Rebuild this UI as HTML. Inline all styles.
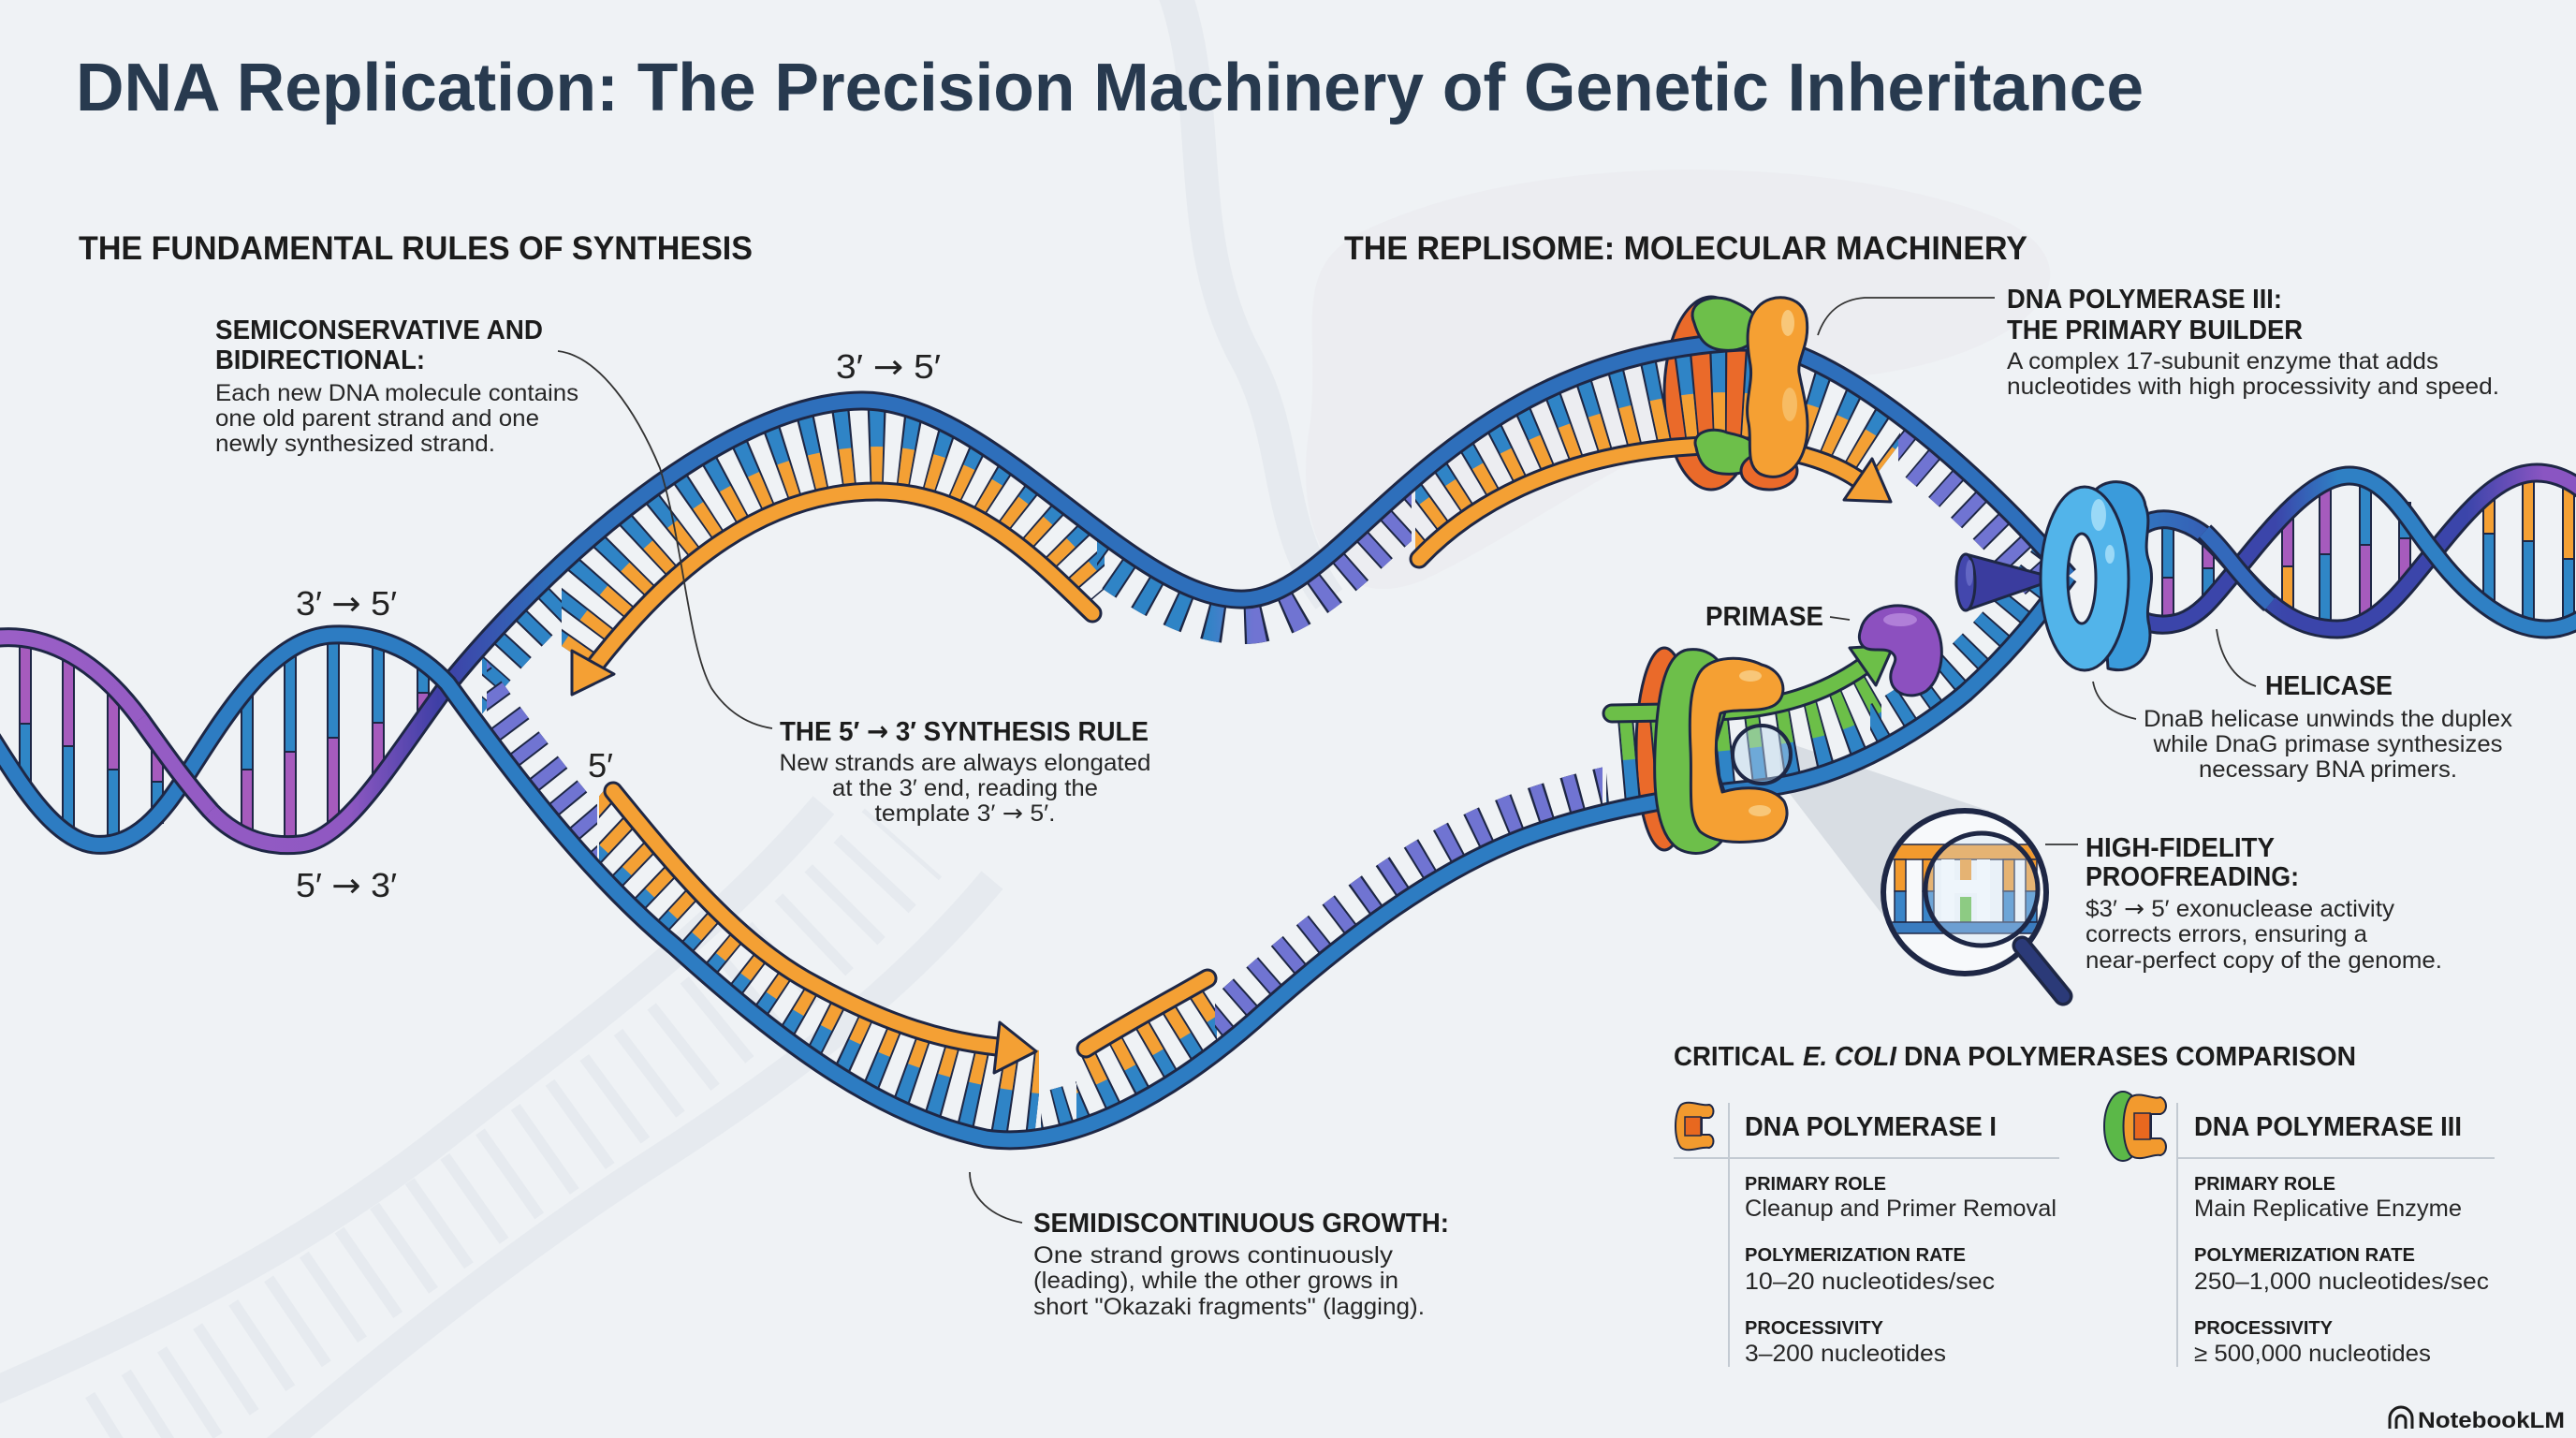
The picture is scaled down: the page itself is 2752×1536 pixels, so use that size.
<!DOCTYPE html>
<html><head><meta charset="utf-8">
<style>
html,body{margin:0;padding:0;background:#eff2f5;}
svg{display:block}
.so{fill:none;stroke:#1e2745;stroke-width:21}
.rk{fill:none;stroke:#1e2745;stroke-width:170;stroke-dasharray:17 17;stroke-dashoffset:2}
.rb{fill:none;stroke:#2f84c6;stroke-width:170;stroke-dasharray:13 21}
.ro{fill:none;stroke:#f4a034;stroke-width:170;stroke-dasharray:13 21}
.rg{fill:none;stroke:#6cbf48;stroke-width:170;stroke-dasharray:13 21}
.sk{fill:none;stroke:#1e2745;stroke-width:96;stroke-dasharray:17 17;stroke-dashoffset:2}
.sb{fill:none;stroke:#2f84c6;stroke-width:96;stroke-dasharray:13 21}
.sl{fill:none;stroke:#7074d2;stroke-width:96;stroke-dasharray:13 21}
.ld{fill:none;stroke:#333;stroke-width:1.8}
.h{font-weight:bold;fill:#1c1c1c}
.b{fill:#262626}
.ol{stroke:#1e2745;stroke-width:3;stroke-linejoin:round}
.ar{font-family:"DejaVu Sans",sans-serif}
</style></head>
<body>
<svg width="2752" height="1536" viewBox="0 0 2752 1536" xmlns="http://www.w3.org/2000/svg" font-family="'Liberation Sans', Arial, sans-serif">
<defs>
 <linearGradient id="gPT" gradientUnits="userSpaceOnUse" x1="0" y1="0" x2="2752" y2="0">
  <stop offset="0" stop-color="#9a5fc6"/><stop offset="0.135" stop-color="#8f58c2"/><stop offset="0.17" stop-color="#3f3fa6"/><stop offset="0.215" stop-color="#2e6fbb"/><stop offset="1" stop-color="#2e6fbb"/>
 </linearGradient>
 <linearGradient id="gRA" gradientUnits="userSpaceOnUse" x1="2250" y1="0" x2="2800" y2="0">
  <stop offset="0" stop-color="#2f80c4"/><stop offset="0.35" stop-color="#3b45aa"/><stop offset="0.7" stop-color="#3b45aa"/><stop offset="0.85" stop-color="#8a55c2"/><stop offset="1" stop-color="#8a55c2"/>
 </linearGradient>
 <linearGradient id="gRB" gradientUnits="userSpaceOnUse" x1="2250" y1="0" x2="2800" y2="0">
  <stop offset="0" stop-color="#3b45aa"/><stop offset="0.33" stop-color="#3b45aa"/><stop offset="0.45" stop-color="#2f80c4"/><stop offset="1" stop-color="#2f80c4"/>
 </linearGradient>
 <linearGradient id="gS1" gradientUnits="userSpaceOnUse" x1="1170" y1="0" x2="1510" y2="0">
  <stop offset="0" stop-color="#2f84c6"/><stop offset="0.35" stop-color="#2f84c6"/><stop offset="0.5" stop-color="#7074d2"/><stop offset="1" stop-color="#7074d2"/>
 </linearGradient>

 <path id="pT" d="M 478,732 C 560,630 760,430 920,428 C 1060,426 1210,645 1330,640 C 1440,636 1540,380 1860,365 C 1960,365 2120,510 2210,615"/>
 <path id="pB2" d="M 478,730 C 550,830 630,935 720,1010 C 820,1100 930,1190 1053,1216 C 1150,1230 1260,1160 1340,1090 C 1440,1000 1540,925 1640,890 C 1720,862 1800,850 1880,842 C 1960,834 2040,790 2100,740 C 2150,695 2180,655 2210,615"/>
 <path id="pPT" d="M -20,684 C 40,670 100,700 150,768 C 180,810 200,838 225,866 C 255,898 290,905 320,902 C 370,898 420,810 478,732 C 560,630 760,430 920,428 C 1060,426 1210,645 1330,640 C 1440,636 1540,380 1860,365 C 1960,365 2120,510 2210,615"/>
 <path id="pB" d="M -20,772 C 10,815 50,895 100,902 C 145,907 175,865 195,835 C 240,765 290,680 356,678 C 410,676 450,700 478,730 C 550,830 630,935 720,1010 C 820,1100 930,1190 1053,1216 C 1150,1230 1260,1160 1340,1090 C 1440,1000 1540,925 1640,890 C 1720,862 1800,850 1880,842 C 1960,834 2040,790 2100,740 C 2150,695 2180,655 2210,615"/>
 <path id="M1" d="M 600,690 C 680,570 800,478 937,477 C 1050,477 1130,560 1185,625"/>
 <path id="M2" d="M 1490,560 C 1560,500 1660,445 1790,423 C 1880,410 1960,430 2025,480"/>
 <path id="M3" d="M 615,880 C 680,935 770,1040 875,1094 C 960,1138 1030,1160 1110,1168"/>
 <path id="M4" d="M 1140,1172 C 1200,1148 1260,1112 1320,1072"/>
 <path id="M5" d="M 1700,815 C 1800,806 1880,800 1930,790 C 1970,782 2000,768 2035,745"/>
 <path id="O1" d="M 630,718 C 720,600 820,525 937,525 C 1040,525 1110,600 1167,655"/>
 <path id="O2" d="M 1516,597 C 1570,540 1660,490 1790,478 C 1880,470 1945,485 1985,512"/>
 <path id="O3" d="M 655,845 C 720,925 790,1010 871,1052 C 950,1095 1010,1112 1065,1118"/>
 <path id="O4" d="M 1160,1120 C 1200,1095 1250,1068 1290,1045"/>
 <path id="O5" d="M 1722,762 L 1830,760 C 1900,758 1950,740 1990,712"/>
 <path id="RA" d="M 2255,600 C 2280,560 2300,548 2330,558 C 2355,566 2370,585 2390,608 C 2430,655 2460,672 2497,672 C 2540,672 2570,625 2600,590 C 2640,540 2672,505 2710,505 C 2745,505 2770,530 2800,565"/>
 <path id="RB" d="M 2255,640 C 2280,665 2305,672 2330,664 C 2355,655 2370,630 2390,608 C 2425,565 2470,508 2510,508 C 2550,508 2575,560 2600,590 C 2630,630 2675,672 2720,672 C 2750,672 2780,650 2800,620"/>

 <clipPath id="cBelowT"><path d="M 478,732 C 560,630 760,430 920,428 C 1060,426 1210,645 1330,640 C 1440,636 1540,380 1860,365 C 1960,365 2120,510 2210,615 L 2210,1600 L 478,1600 Z"/></clipPath>
 <clipPath id="cAboveB2"><path d="M 478,730 C 550,830 630,935 720,1010 C 820,1100 930,1190 1053,1216 C 1150,1230 1260,1160 1340,1090 C 1440,1000 1540,925 1640,890 C 1720,862 1800,850 1880,842 C 1960,834 2040,790 2100,740 C 2150,695 2180,655 2210,615 L 2210,-50 L 478,-50 Z"/></clipPath>
 <clipPath id="cAboveO1"><path d="M 600,760 L 612,740 L 630,718 C 720,600 820,525 937,525 C 1040,525 1110,600 1167,655 L 1180,668 L 1180,0 L 600,0 Z"/></clipPath>
 <clipPath id="cBelowM1"><path d="M 600,690 C 680,570 800,478 937,477 C 1050,477 1130,560 1185,625 L 1185,1600 L 560,1600 L 560,690 Z"/></clipPath>
 <clipPath id="cAboveO2"><path d="M 1512,0 L 1512,600 L 1516,597 C 1570,540 1660,490 1790,478 C 1880,470 1945,485 1985,512 L 2030,545 L 2030,0 Z"/></clipPath>
 <clipPath id="cBelowM2"><path d="M 1490,560 C 1560,500 1660,445 1790,423 C 1880,410 1960,430 2025,480 L 2060,520 L 2060,1600 L 1450,1600 L 1450,560 Z"/></clipPath>
 <clipPath id="cBelowO3"><path d="M 640,830 L 655,845 C 720,925 790,1010 871,1052 C 950,1095 1010,1112 1065,1118 L 1110,1122 L 1110,1600 L 640,1600 Z"/></clipPath>
 <clipPath id="cAboveM3"><path d="M 615,880 C 680,935 770,1040 875,1094 C 960,1138 1030,1160 1110,1168 L 1150,1170 L 1150,0 L 615,0 Z"/></clipPath>
 <clipPath id="cBelowO4"><path d="M 1150,1128 L 1160,1120 C 1200,1095 1250,1068 1290,1045 L 1300,1040 L 1300,1600 L 1150,1600 Z"/></clipPath>
 <clipPath id="cAboveM4"><path d="M 1140,1172 C 1200,1148 1260,1112 1320,1072 L 1320,0 L 1140,0 Z"/></clipPath>
 <clipPath id="cBelowO5"><path d="M 1716,763 L 1830,760 C 1900,758 1950,740 1990,712 L 2010,698 L 2010,1600 L 1716,1600 Z"/></clipPath>
 <clipPath id="cAboveM5"><path d="M 1700,815 C 1800,806 1880,800 1930,790 C 1970,782 2000,768 2035,745 L 2035,0 L 1700,0 Z"/></clipPath>
 <clipPath id="xS1"><rect x="1172" y="0" width="336" height="1536"/></clipPath>
 <clipPath id="xS2"><rect x="2028" y="0" width="160" height="1536"/></clipPath>
 <clipPath id="xS3"><rect x="515" y="0" width="85" height="1536"/></clipPath>
 <clipPath id="xS4a"><rect x="1112" y="0" width="38" height="1536"/></clipPath>
 <clipPath id="xS4b"><rect x="1298" y="0" width="414" height="1536"/></clipPath>
 <clipPath id="xS5"><rect x="1998" y="0" width="190" height="1536"/></clipPath>
 <clipPath id="xS6"><rect x="520" y="0" width="118" height="1536"/></clipPath>
 <clipPath id="cMag"><circle cx="2099" cy="953" r="84"/></clipPath>
</defs>

<!-- background -->
<rect x="0" y="0" width="2752" height="1536" fill="#eff2f5"/>
<path d="M 1450,250 C 1650,150 2000,170 2150,240 C 2250,300 2150,380 2000,400 C 1800,430 1650,560 1520,620 C 1420,660 1380,560 1400,450 C 1410,350 1380,290 1450,250 Z" fill="#e9e5ea" opacity="0.35"/>
<g opacity="0.28" fill="none" stroke="#d0d8e0">
 <path d="M -40,1500 C 150,1420 330,1330 480,1210 C 620,1100 760,1000 880,860" stroke-width="30"/>
 <path d="M 280,1560 C 420,1440 560,1330 700,1240 C 840,1150 960,1060 1060,940" stroke-width="30"/>
 <path d="M 120,1540 C 290,1435 450,1320 590,1222 C 720,1130 850,1030 965,900" stroke-width="110" stroke-dasharray="12 34"/>
 <path d="M 1250,-20 C 1300,100 1260,250 1330,380 C 1380,470 1360,560 1420,640" stroke-width="36"/>
</g>

<!-- magnifier cone -->
<polygon points="1900,790 2125,866 2050,1028 1903,836" fill="#c5ccd4" opacity="0.55"/>

<!-- enzyme back bodies -->
<ellipse cx="1828" cy="420" rx="50" ry="103" fill="#ea6a2a" class="ol"/>
<ellipse cx="1778" cy="800" rx="30" ry="108" fill="#ea6a2a" class="ol"/>

<!-- left helix rungs -->
<g stroke="#1e2745" stroke-width="2">
 <rect x="21" y="682" width="12" height="91" fill="#a65bbd"/><rect x="21" y="773" width="12" height="68" fill="#2f86c6"/>
 <rect x="67" y="697" width="12" height="100" fill="#a65bbd"/><rect x="67" y="797" width="12" height="93" fill="#2f86c6"/>
 <rect x="115" y="730" width="12" height="92" fill="#a65bbd"/><rect x="115" y="822" width="12" height="81" fill="#2f86c6"/>
 <rect x="162" y="792" width="12" height="43" fill="#a65bbd"/><rect x="162" y="835" width="12" height="44" fill="#2f86c6"/>
 <rect x="258" y="742" width="12" height="80" fill="#2f86c6"/><rect x="258" y="822" width="12" height="74" fill="#a65bbd"/>
 <rect x="304" y="692" width="12" height="111" fill="#2f86c6"/><rect x="304" y="803" width="12" height="99" fill="#a65bbd"/>
 <rect x="350" y="678" width="12" height="110" fill="#2f86c6"/><rect x="350" y="788" width="12" height="97" fill="#a65bbd"/>
 <rect x="398" y="685" width="12" height="87" fill="#2f86c6"/><rect x="398" y="772" width="12" height="64" fill="#a65bbd"/>
 <rect x="446" y="705" width="12" height="35" fill="#2f86c6"/><rect x="446" y="740" width="12" height="30" fill="#a65bbd"/>
</g>
<!-- right helix rungs -->
<g stroke="#1e2745" stroke-width="2">
 <rect x="2310" y="553" width="12" height="64" fill="#2f86c6"/><rect x="2310" y="617" width="12" height="53" fill="#a65bbd"/>
 <rect x="2353" y="580" width="12" height="27" fill="#a65bbd"/><rect x="2353" y="607" width="12" height="33" fill="#2f86c6"/>
 <rect x="2438" y="548" width="12" height="57" fill="#a65bbd"/><rect x="2438" y="605" width="12" height="55" fill="#f4a034"/>
 <rect x="2478" y="515" width="12" height="77" fill="#a65bbd"/><rect x="2478" y="592" width="12" height="79" fill="#2f86c6"/>
 <rect x="2521" y="510" width="12" height="72" fill="#2f86c6"/><rect x="2521" y="582" width="12" height="78" fill="#a65bbd"/>
 <rect x="2563" y="537" width="12" height="38" fill="#2f86c6"/><rect x="2563" y="575" width="12" height="50" fill="#a65bbd"/>
 <rect x="2653" y="525" width="12" height="45" fill="#f4a034"/><rect x="2653" y="570" width="12" height="80" fill="#2f86c6"/>
 <rect x="2695" y="506" width="12" height="72" fill="#f4a034"/><rect x="2695" y="578" width="12" height="93" fill="#2f86c6"/>
 <rect x="2738" y="512" width="12" height="85" fill="#f4a034"/><rect x="2738" y="597" width="12" height="68" fill="#2f86c6"/>
</g>

<!-- paired rungs -->
<g clip-path="url(#cBelowT)"><g clip-path="url(#cAboveO1)">
 <use href="#M1" class="rk"/><use href="#M1" class="rb"/>
 <g clip-path="url(#cBelowM1)"><use href="#M1" class="ro"/></g>
</g></g>
<g clip-path="url(#cBelowT)"><g clip-path="url(#cAboveO2)">
 <use href="#M2" class="rk"/><use href="#M2" class="rb"/>
 <g clip-path="url(#cBelowM2)"><use href="#M2" class="ro"/></g>
</g></g>
<g clip-path="url(#cAboveB2)"><g clip-path="url(#cBelowO3)">
 <use href="#M3" class="rk"/><use href="#M3" class="rb"/>
 <g clip-path="url(#cAboveM3)"><use href="#M3" class="ro"/></g>
</g></g>
<g clip-path="url(#cAboveB2)"><g clip-path="url(#cBelowO4)">
 <use href="#M4" class="rk"/><use href="#M4" class="rb"/>
 <g clip-path="url(#cAboveM4)"><use href="#M4" class="ro"/></g>
</g></g>
<g clip-path="url(#cAboveB2)"><g clip-path="url(#cBelowO5)">
 <use href="#M5" class="rk"/><use href="#M5" class="rb"/>
 <g clip-path="url(#cAboveM5)"><use href="#M5" class="rg"/></g>
</g></g>

<!-- unpaired stubs -->
<g clip-path="url(#cBelowT)"><g clip-path="url(#xS1)"><use href="#pT" class="sk"/><use href="#pT" fill="none" stroke="url(#gS1)" stroke-width="96" stroke-dasharray="13 21"/></g></g>
<g clip-path="url(#cBelowT)"><g clip-path="url(#xS2)"><use href="#pT" class="sk"/><use href="#pT" class="sl"/></g></g>
<g clip-path="url(#cBelowT)"><g clip-path="url(#xS3)"><use href="#pT" class="sk"/><use href="#pT" class="sb"/></g></g>
<g clip-path="url(#cAboveB2)"><g clip-path="url(#xS4a)"><use href="#pB2" class="sk"/><use href="#pB2" class="sb"/></g></g>
<g clip-path="url(#cAboveB2)"><g clip-path="url(#xS4b)"><use href="#pB2" class="sk"/><use href="#pB2" class="sl"/></g></g>
<g clip-path="url(#cAboveB2)"><g clip-path="url(#xS5)"><use href="#pB2" class="sk"/><use href="#pB2" class="sb"/></g></g>
<g clip-path="url(#cAboveB2)"><g clip-path="url(#xS6)"><use href="#pB2" class="sk"/><use href="#pB2" class="sl"/></g></g>

<!-- helicase wedge -->
<path d="M 2100,592 L 2198,618 L 2100,652 Z" fill="#3a3c9e" class="ol"/>
<ellipse cx="2100" cy="622" rx="10" ry="30" fill="#4347ad" class="ol"/>
<ellipse cx="2104" cy="612" rx="4" ry="14" fill="#6367c4"/>

<!-- right helix strands -->
<use href="#RA" class="so"/><use href="#RA" fill="none" stroke="url(#gRA)" stroke-width="15"/>
<use href="#RB" class="so"/><use href="#RB" fill="none" stroke="url(#gRB)" stroke-width="15"/>
<path d="M 2355,568 C 2370,582 2380,596 2390,608 C 2400,620 2412,634 2425,645" class="so"/>
<path d="M 2355,568 C 2370,582 2380,596 2390,608 C 2400,620 2412,634 2425,645" fill="none" stroke="#3369bb" stroke-width="15"/>

<!-- main strands -->
<use href="#pPT" class="so"/><use href="#pPT" fill="none" stroke="url(#gPT)" stroke-width="15"/>
<use href="#pB" class="so"/><use href="#pB" fill="none" stroke="#2d7cc2" stroke-width="15"/>
<path d="M 150,768 C 180,810 200,838 225,866" class="so"/>
<path d="M 150,768 C 180,810 200,838 225,866" fill="none" stroke="url(#gPT)" stroke-width="15"/>

<!-- new strands -->
<g fill="none" stroke-linecap="round">
 <use href="#O1" class="so" stroke-linecap="round"/><use href="#O1" stroke="#f4a034" stroke-width="15"/>
 <use href="#O2" class="so" stroke-linecap="round"/><use href="#O2" stroke="#f4a034" stroke-width="15"/>
 <use href="#O3" class="so" stroke-linecap="round"/><use href="#O3" stroke="#f4a034" stroke-width="15"/>
 <use href="#O4" class="so" stroke-linecap="round"/><use href="#O4" stroke="#f4a034" stroke-width="15"/>
 <use href="#O5" class="so" stroke-linecap="round"/><use href="#O5" stroke="#6cbf48" stroke-width="15"/>
</g>
<polygon points="611,742 611,695 656,720" fill="#f4a034" class="ol"/>
<polygon points="2020,536 1970,534 2000,490" fill="#f4a034" class="ol"/>
<polygon points="1107,1123 1062,1146 1068,1092" fill="#f4a034" class="ol"/>
<polygon points="2023,689 2004,732 1976,692" fill="#6cbf48" class="ol"/>

<!-- Pol III top front -->
<path d="M 1810,345 C 1800,322 1830,312 1852,322 C 1870,330 1880,338 1878,352 C 1876,368 1860,376 1840,374 C 1822,372 1815,362 1810,345 Z" fill="#6dbf4a" class="ol"/>
<path d="M 1812,478 C 1806,462 1828,455 1845,462 C 1862,466 1880,470 1878,488 C 1876,502 1860,508 1840,506 C 1822,504 1815,494 1812,478 Z" fill="#6dbf4a" class="ol"/>
<ellipse cx="1890" cy="503" rx="30" ry="20" fill="#ea6a2a" class="ol"/>
<path d="M 1878,328 C 1892,312 1926,314 1930,340 C 1934,368 1920,382 1922,398 C 1926,420 1936,450 1928,478 C 1920,506 1898,515 1880,506 C 1864,496 1872,472 1868,452 C 1863,430 1873,410 1870,390 C 1866,368 1864,342 1878,328 Z" fill="#f5a033" class="ol"/>
<ellipse cx="1910" cy="345" rx="7" ry="14" fill="#f8c779"/>
<ellipse cx="1912" cy="432" rx="8" ry="18" fill="#f8c779" opacity="0.7"/>

<!-- lower polymerase front -->
<path d="M 1803,694 C 1832,690 1850,716 1846,746 C 1842,774 1830,790 1832,810 C 1834,832 1852,858 1846,884 C 1840,910 1812,918 1792,906 C 1772,892 1766,852 1768,802 C 1770,752 1776,698 1803,694 Z" fill="#6dbf4a" class="ol"/>
<path d="M 1816,718 C 1828,700 1862,700 1882,710 C 1906,716 1912,742 1896,753 C 1882,762 1852,756 1838,762 C 1831,790 1832,820 1840,846 C 1860,840 1892,838 1906,856 C 1916,876 1900,896 1880,898 C 1856,901 1830,900 1816,888 C 1802,870 1808,840 1806,800 C 1804,760 1806,734 1816,718 Z" fill="#f5a033" class="ol"/>
<ellipse cx="1870" cy="722" rx="12" ry="6" fill="#f8c779"/>
<ellipse cx="1880" cy="866" rx="12" ry="6" fill="#f8c779"/>
<circle cx="1882" cy="806" r="31" fill="#bcd6ee" fill-opacity="0.45" stroke="#1e2745" stroke-width="4"/>

<!-- primase -->
<path d="M 1988,672 C 1994,645 2040,638 2062,660 C 2080,680 2078,722 2058,738 C 2042,748 2022,742 2020,726 C 2018,712 2030,706 2022,698 C 2014,690 1998,698 1990,690 C 1985,684 1986,678 1988,672 Z" fill="#8c50bf" class="ol"/>
<ellipse cx="2030" cy="662" rx="18" ry="7" fill="#b07fd8"/>

<!-- helicase -->
<path d="M 2240,522 C 2256,508 2288,514 2292,540 C 2300,560 2288,580 2296,600 C 2304,625 2290,645 2296,668 C 2302,700 2280,722 2252,714 Z" fill="#3a9bdb" class="ol"/>
<path d="M 2180,618 A 47,98 0 1,0 2274,618 A 47,98 0 1,0 2180,618 Z M 2209,618 A 15,48 0 1,0 2239,618 A 15,48 0 1,0 2209,618 Z" fill="#52b4ea" fill-rule="evenodd" class="ol"/>
<ellipse cx="2242" cy="550" rx="8" ry="17" fill="#9ad9f7"/>
<ellipse cx="2254" cy="592" rx="5" ry="10" fill="#9ad9f7"/>

<!-- big magnifier -->
<circle cx="2099" cy="953" r="87" fill="#f7f9fb"/>
<g clip-path="url(#cMag)">
 <rect x="2010" y="902" width="180" height="16" fill="#f29a2e" stroke="#1e2745" stroke-width="1.5"/>
 <g stroke="#1e2745" stroke-width="1.5">
  <rect x="2024" y="918" width="12" height="34" fill="#f29a2e"/><rect x="2024" y="952" width="12" height="33" fill="#3a85c8"/>
  <rect x="2054" y="918" width="12" height="34" fill="#f29a2e"/><rect x="2054" y="952" width="12" height="33" fill="#3a85c8"/>
  <rect x="2140" y="918" width="12" height="34" fill="#f29a2e"/><rect x="2140" y="952" width="12" height="33" fill="#3a85c8"/>
  <rect x="2164" y="918" width="12" height="34" fill="#f29a2e"/><rect x="2164" y="952" width="12" height="33" fill="#3a85c8"/>
 </g>
 <rect x="2074" y="918" width="14" height="67" fill="#ffffff"/>
 <rect x="2112" y="918" width="14" height="67" fill="#ffffff"/>
 <rect x="2088" y="940" width="24" height="14" fill="#ffffff"/>
 <rect x="2094" y="918" width="12" height="22" fill="#f29a2e"/>
 <rect x="2094" y="958" width="12" height="27" fill="#6abf48"/>
 <rect x="2010" y="985" width="180" height="12" fill="#3a7cc0" stroke="#1e2745" stroke-width="1.5"/>
</g>
<circle cx="2099" cy="953" r="87" fill="none" stroke="#1e2745" stroke-width="6"/>
<circle cx="2117" cy="950" r="60" fill="#cfe3f4" fill-opacity="0.35" stroke="#1e2745" stroke-width="5"/>
<line x1="2160" y1="1010" x2="2204" y2="1064" stroke="#1e2745" stroke-width="21" stroke-linecap="round"/>
<line x1="2160" y1="1010" x2="2204" y2="1064" stroke="#2b3a78" stroke-width="14" stroke-linecap="round"/>

<!-- leader lines -->
<path class="ld" d="M 596,375 C 640,380 680,440 705,500 C 730,580 735,690 760,735 C 780,765 805,775 825,778"/>
<path class="ld" d="M 1036,1252 C 1036,1280 1060,1300 1092,1306"/>
<path class="ld" d="M 2131,318 L 1992,318 C 1965,320 1950,335 1942,358"/>
<path class="ld" d="M 1955,659 L 1976,662"/>
<path class="ld" d="M 2368,672 C 2372,700 2385,725 2410,733"/>
<path class="ld" d="M 2236,728 C 2240,750 2255,762 2282,768"/>
<path class="ld" d="M 2185,902 L 2220,902"/>

<!-- titles -->
<text x="81" y="118" font-size="72" font-weight="bold" fill="#283a4f" textLength="2209" lengthAdjust="spacingAndGlyphs">DNA Replication: The Precision Machinery of Genetic Inheritance</text>
<text x="84" y="277" font-size="35" class="h" textLength="720" lengthAdjust="spacingAndGlyphs">THE FUNDAMENTAL RULES OF SYNTHESIS</text>
<text x="1436" y="277" font-size="35" class="h" textLength="730" lengthAdjust="spacingAndGlyphs">THE REPLISOME: MOLECULAR MACHINERY</text>

<!-- semiconservative -->
<text x="230" y="362" font-size="29" class="h" textLength="350" lengthAdjust="spacingAndGlyphs">SEMICONSERVATIVE AND</text>
<text x="230" y="394" font-size="29" class="h" textLength="224" lengthAdjust="spacingAndGlyphs">BIDIRECTIONAL:</text>
<text x="230" y="428" font-size="25" class="b" textLength="388" lengthAdjust="spacingAndGlyphs">Each new DNA molecule contains</text>
<text x="230" y="455" font-size="25" class="b" textLength="346" lengthAdjust="spacingAndGlyphs">one old parent strand and one</text>
<text x="230" y="482" font-size="25" class="b" textLength="299" lengthAdjust="spacingAndGlyphs">newly synthesized strand.</text>

<!-- strand labels -->
<text x="893" y="404" font-size="36" fill="#222" textLength="112" lengthAdjust="spacingAndGlyphs">3′ <tspan class="ar">→</tspan> 5′</text>
<text x="316" y="657" font-size="36" fill="#222" textLength="108" lengthAdjust="spacingAndGlyphs">3′ <tspan class="ar">→</tspan> 5′</text>
<text x="316" y="958" font-size="36" fill="#222" textLength="108" lengthAdjust="spacingAndGlyphs">5′ <tspan class="ar">→</tspan> 3′</text>
<text x="628" y="830" font-size="36" fill="#222" textLength="27" lengthAdjust="spacingAndGlyphs">5′</text>

<!-- synthesis rule -->
<text x="833" y="791" font-size="29" class="h" textLength="394" lengthAdjust="spacingAndGlyphs">THE 5′ <tspan class="ar">→</tspan> 3′ SYNTHESIS RULE</text>
<text x="1031" y="823" font-size="25" class="b" text-anchor="middle" textLength="397" lengthAdjust="spacingAndGlyphs">New strands are always elongated</text>
<text x="1031" y="850" font-size="25" class="b" text-anchor="middle" textLength="284" lengthAdjust="spacingAndGlyphs">at the 3′ end, reading the</text>
<text x="1031" y="877" font-size="25" class="b" text-anchor="middle" textLength="193" lengthAdjust="spacingAndGlyphs">template 3′ <tspan class="ar">→</tspan> 5′.</text>

<!-- semidiscontinuous -->
<text x="1104" y="1316" font-size="29" class="h" textLength="444" lengthAdjust="spacingAndGlyphs">SEMIDISCONTINUOUS GROWTH:</text>
<text x="1104" y="1349" font-size="25" class="b" textLength="384" lengthAdjust="spacingAndGlyphs">One strand grows continuously</text>
<text x="1104" y="1376" font-size="25" class="b" textLength="390" lengthAdjust="spacingAndGlyphs">(leading), while the other grows in</text>
<text x="1104" y="1404" font-size="25" class="b" textLength="418" lengthAdjust="spacingAndGlyphs">short "Okazaki fragments" (lagging).</text>

<!-- pol III -->
<text x="2144" y="329" font-size="29" class="h" textLength="294" lengthAdjust="spacingAndGlyphs">DNA POLYMERASE III:</text>
<text x="2144" y="362" font-size="29" class="h" textLength="316" lengthAdjust="spacingAndGlyphs">THE PRIMARY BUILDER</text>
<text x="2144" y="394" font-size="25" class="b" textLength="461" lengthAdjust="spacingAndGlyphs">A complex 17-subunit enzyme that adds</text>
<text x="2144" y="421" font-size="25" class="b" textLength="526" lengthAdjust="spacingAndGlyphs">nucleotides with high processivity and speed.</text>

<!-- primase / helicase -->
<text x="1822" y="668" font-size="29" class="h" textLength="126" lengthAdjust="spacingAndGlyphs">PRIMASE</text>
<text x="2420" y="742" font-size="29" class="h" textLength="136" lengthAdjust="spacingAndGlyphs">HELICASE</text>
<text x="2487" y="776" font-size="25" class="b" text-anchor="middle" textLength="394" lengthAdjust="spacingAndGlyphs">DnaB helicase unwinds the duplex</text>
<text x="2487" y="803" font-size="25" class="b" text-anchor="middle" textLength="373" lengthAdjust="spacingAndGlyphs">while DnaG primase synthesizes</text>
<text x="2487" y="830" font-size="25" class="b" text-anchor="middle" textLength="276" lengthAdjust="spacingAndGlyphs">necessary BNA primers.</text>

<!-- proofreading -->
<text x="2228" y="915" font-size="29" class="h" textLength="202" lengthAdjust="spacingAndGlyphs">HIGH-FIDELITY</text>
<text x="2228" y="946" font-size="29" class="h" textLength="228" lengthAdjust="spacingAndGlyphs">PROOFREADING:</text>
<text x="2228" y="979" font-size="25" class="b" textLength="330" lengthAdjust="spacingAndGlyphs">$3′ <tspan class="ar">→</tspan> 5′ exonuclease activity</text>
<text x="2228" y="1006" font-size="25" class="b" textLength="301" lengthAdjust="spacingAndGlyphs">corrects errors, ensuring a</text>
<text x="2228" y="1034" font-size="25" class="b" textLength="381" lengthAdjust="spacingAndGlyphs">near-perfect copy of the genome.</text>

<!-- comparison table -->
<text x="1788" y="1138" font-size="29" class="h" textLength="129" lengthAdjust="spacingAndGlyphs">CRITICAL</text>
<text x="1926" y="1138" font-size="29" class="h" font-style="italic" textLength="100" lengthAdjust="spacingAndGlyphs">E. COLI</text>
<text x="2034" y="1138" font-size="29" class="h" textLength="483" lengthAdjust="spacingAndGlyphs">DNA POLYMERASES COMPARISON</text>

<g stroke="#c3cad2" stroke-width="2">
 <line x1="1847" y1="1178" x2="1847" y2="1460"/>
 <line x1="2326" y1="1178" x2="2326" y2="1460"/>
 <line x1="1788" y1="1237" x2="2200" y2="1237"/>
 <line x1="2325" y1="1237" x2="2665" y2="1237"/>
</g>
<!-- icons -->
<path d="M 1796,1180 C 1804,1174 1818,1182 1826,1180 C 1832,1182 1832,1192 1826,1194 L 1818,1194 L 1818,1212 L 1826,1212 C 1832,1214 1832,1224 1826,1226 C 1818,1224 1804,1232 1796,1226 C 1788,1218 1788,1188 1796,1180 Z" fill="#f29a2e" stroke="#1e2745" stroke-width="2"/>
<rect x="1800" y="1193" width="17" height="20" fill="#e8681f" stroke="#1e2745" stroke-width="1.5"/>
<ellipse cx="2268" cy="1203" rx="20" ry="37" fill="#5bb848" stroke="#1e2745" stroke-width="2"/>
<path d="M 2276,1172 C 2286,1165 2300,1175 2308,1172 C 2316,1175 2316,1188 2308,1190 L 2298,1190 L 2298,1216 L 2308,1216 C 2316,1218 2316,1232 2308,1234 C 2300,1232 2286,1242 2276,1234 C 2266,1222 2266,1184 2276,1172 Z" fill="#f29a2e" stroke="#1e2745" stroke-width="2"/>
<rect x="2280" y="1189" width="17" height="28" fill="#e8681f" stroke="#1e2745" stroke-width="1.5"/>

<text x="1864" y="1213" font-size="29" class="h" textLength="269" lengthAdjust="spacingAndGlyphs">DNA POLYMERASE I</text>
<text x="2344" y="1213" font-size="29" class="h" textLength="286" lengthAdjust="spacingAndGlyphs">DNA POLYMERASE III</text>

<text x="1864" y="1271" font-size="20" class="h" textLength="151" lengthAdjust="spacingAndGlyphs">PRIMARY ROLE</text>
<text x="1864" y="1299" font-size="25" class="b" textLength="333" lengthAdjust="spacingAndGlyphs">Cleanup and Primer Removal</text>
<text x="1864" y="1347" font-size="20" class="h" textLength="236" lengthAdjust="spacingAndGlyphs">POLYMERIZATION RATE</text>
<text x="1864" y="1377" font-size="25" class="b" textLength="267" lengthAdjust="spacingAndGlyphs">10–20 nucleotides/sec</text>
<text x="1864" y="1425" font-size="20" class="h" textLength="148" lengthAdjust="spacingAndGlyphs">PROCESSIVITY</text>
<text x="1864" y="1454" font-size="25" class="b" textLength="215" lengthAdjust="spacingAndGlyphs">3–200 nucleotides</text>

<text x="2344" y="1271" font-size="20" class="h" textLength="151" lengthAdjust="spacingAndGlyphs">PRIMARY ROLE</text>
<text x="2344" y="1299" font-size="25" class="b" textLength="286" lengthAdjust="spacingAndGlyphs">Main Replicative Enzyme</text>
<text x="2344" y="1347" font-size="20" class="h" textLength="236" lengthAdjust="spacingAndGlyphs">POLYMERIZATION RATE</text>
<text x="2344" y="1377" font-size="25" class="b" textLength="315" lengthAdjust="spacingAndGlyphs">250–1,000 nucleotides/sec</text>
<text x="2344" y="1425" font-size="20" class="h" textLength="148" lengthAdjust="spacingAndGlyphs">PROCESSIVITY</text>
<text x="2344" y="1454" font-size="25" class="b" textLength="253" lengthAdjust="spacingAndGlyphs">≥ 500,000 nucleotides</text>

<!-- NotebookLM -->
<path d="M 2553,1526 L 2553,1515 A 12,12 0 0 1 2577,1515 L 2577,1526" fill="none" stroke="#1c1c1c" stroke-width="3"/>
<path d="M 2560,1526 L 2560,1517 A 5,5 0 0 1 2570,1517 L 2570,1526" fill="none" stroke="#1c1c1c" stroke-width="3"/>
<text x="2583" y="1525" font-size="24" font-weight="bold" fill="#1c1c1c" textLength="157" lengthAdjust="spacingAndGlyphs">NotebookLM</text>
</svg>
</body></html>
